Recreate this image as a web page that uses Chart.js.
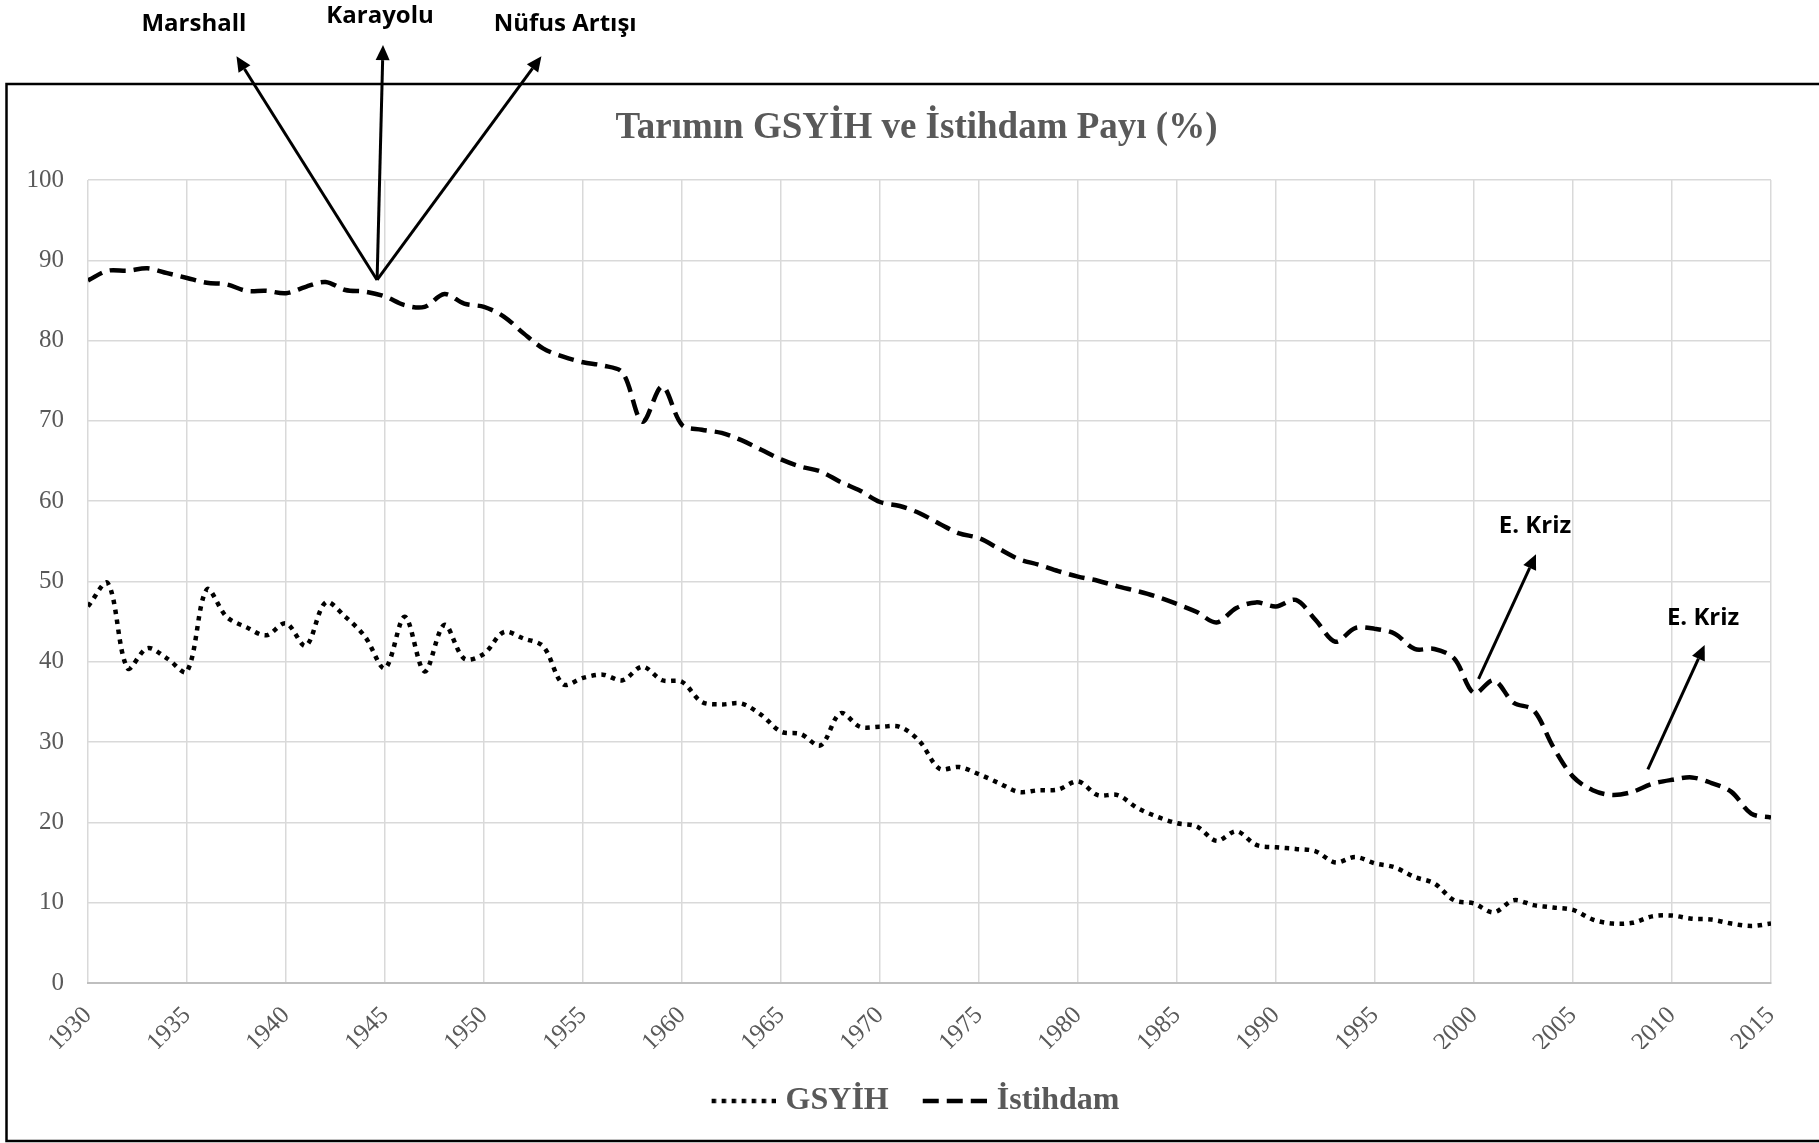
<!DOCTYPE html>
<html>
<head>
<meta charset="utf-8">
<script src="https://cdn.jsdelivr.net/npm/chart.js@4/dist/chart.umd.min.js"></script>
<style>
html,body{margin:0;padding:0;background:#fff;overflow:hidden}
#wrap{width:1819px;height:1143px}
</style>
</head>
<body>
<div id="wrap"><canvas id="c" width="1819" height="1143"></canvas></div>
<script>
// ---- data ----
const years = [1930,1931,1932,1933,1934,1935,1936,1937,1938,1939,
  1940,1941,1942,1943,1944,1945,1946,1947,1948,1949,
  1950,1951,1952,1953,1954,1955,1956,1957,1958,1959,
  1960,1961,1962,1963,1964,1965,1966,1967,1968,1969,
  1970,1971,1972,1973,1974,1975,1976,1977,1978,1979,
  1980,1981,1982,1983,1984,1985,1986,1987,1988,1989,
  1990,1991,1992,1993,1994,1995,1996,1997,1998,1999,
  2000,2001,2002,2003,2004,2005,2006,2007,2008,2009,
  2010,2011,2012,2013,2014,2015];

const gsyih = [46.9,49.8,39.2,41.7,40.4,38.8,49.0,45.6,44.3,43.3,
  44.8,42.0,47.4,45.6,43.1,39.2,45.6,38.8,44.6,40.4,
  41.0,43.7,42.9,41.9,37.2,38.0,38.4,37.7,39.4,37.7,
  37.5,35.0,34.7,34.8,33.4,31.3,31.0,29.6,33.6,31.9,
  31.9,31.9,30.1,26.7,26.9,26.0,24.9,23.8,24.0,24.1,
  25.1,23.4,23.4,21.8,20.7,19.9,19.5,17.7,18.9,17.2,
  16.9,16.7,16.4,15.0,15.7,14.9,14.4,13.2,12.4,10.3,
  9.9,8.8,10.3,9.7,9.4,9.1,7.9,7.4,7.5,8.3,
  8.4,8.0,7.9,7.4,7.1,7.4];

const istihdam = [87.5,88.7,88.7,89.0,88.4,87.8,87.2,87.0,86.2,86.2,
  85.9,86.7,87.3,86.3,86.1,85.5,84.4,84.2,85.8,84.6,
  84.2,83.0,80.9,79.0,78.0,77.3,76.9,76.0,69.9,74.3,
  69.5,68.9,68.5,67.6,66.4,65.2,64.3,63.7,62.4,61.3,
  59.9,59.4,58.5,57.2,56.0,55.4,54.1,52.8,52.1,51.3,
  50.6,50.1,49.4,48.8,48.1,47.2,46.2,44.9,46.7,47.4,
  46.9,47.7,45.2,42.5,44.2,44.1,43.5,41.6,41.6,40.4,
  36.1,37.7,34.9,34.0,29.4,25.7,24.0,23.4,23.8,24.8,
  25.3,25.6,24.9,23.8,21.1,20.6];

const seriesNames = ["GSYİH", "İstihdam"];
const chartTitle = "Tarımın GSYİH ve İstihdam Payı (%)";

// annotations (in data coordinates: year, percent)
const annText   = ["Marshall", "Karayolu", "Nüfus Artışı", "E. Kriz", "E. Kriz"];
const annTextX  = [1935.35, 1944.75, 1954.1, 2003.08, 2011.57];
const annTextY  = [119.4, 120.4, 119.4, 56.85, 45.45];
const arrowFromX = [1944.6, 1944.6, 1944.6, 2000.23, 2008.78];
const arrowFromY = [87.55, 87.55, 87.55, 37.86, 26.6];
const arrowToX   = [1937.5, 1944.9, 1952.9, 2003.13, 2011.65];
const arrowToY   = [115.4, 116.8, 115.4, 53.4, 42.1];

// ---- chart ----
const SERIF = '"Liberation Serif", "Times New Roman", serif';
const GRAY = '#595959';

// legend symbol: a short styled line, right-aligned in a small image
function legendSymbol(dash, width) {
  const c = document.createElement('canvas');
  c.width = 68; c.height = 10;
  const g = c.getContext('2d');
  g.strokeStyle = '#000';
  g.lineWidth = width;
  g.lineCap = 'butt';
  g.setLineDash(dash);
  g.beginPath();
  g.moveTo(4, 5);
  g.lineTo(68, 5);
  g.stroke();
  return c;
}

const decor = {
  id: 'decor',
  beforeDraw(chart) {
    const ctx = chart.ctx;
    ctx.save();
    ctx.fillStyle = '#fff';
    ctx.fillRect(0, 0, chart.width, chart.height);
    ctx.restore();
  },
  afterDraw(chart) {
    const ctx = chart.ctx;
    const xs = chart.scales.x, ys = chart.scales.y;
    ctx.save();
    // outer frame
    ctx.strokeStyle = '#000';
    ctx.lineWidth = 2.5;
    ctx.strokeRect(6.5, 84, chart.width + 20, 1057);
    // arrows
    ctx.lineWidth = 3;
    ctx.fillStyle = '#000';
    for (let i = 0; i < arrowFromX.length; i++) {
      const x0 = xs.getPixelForValue(arrowFromX[i]);
      const y0 = ys.getPixelForValue(arrowFromY[i]);
      const x1 = xs.getPixelForValue(arrowToX[i]);
      const y1 = ys.getPixelForValue(arrowToY[i]);
      const ang = Math.atan2(y1 - y0, x1 - x0);
      const hl = 15, hw = 7;
      const bx = x1 - hl * Math.cos(ang), by = y1 - hl * Math.sin(ang);
      ctx.beginPath();
      ctx.moveTo(x0, y0);
      ctx.lineTo(bx, by);
      ctx.stroke();
      ctx.beginPath();
      ctx.moveTo(x1, y1);
      ctx.lineTo(bx + hw * Math.sin(ang), by - hw * Math.cos(ang));
      ctx.lineTo(bx - hw * Math.sin(ang), by + hw * Math.cos(ang));
      ctx.closePath();
      ctx.fill();
    }
    // labels
    ctx.font = 'bold 24px "Open Sans", "DejaVu Sans", sans-serif';
    ctx.textAlign = 'center';
    ctx.textBaseline = 'middle';
    for (let i = 0; i < annText.length; i++) {
      ctx.fillText(annText[i], xs.getPixelForValue(annTextX[i]), ys.getPixelForValue(annTextY[i]));
    }
    ctx.restore();
  }
};

const toPts = arr => arr.map((v, i) => ({x: years[i], y: v}));

new Chart(document.getElementById('c'), {
  type: 'line',
  data: {
    datasets: [
      {
        label: seriesNames[0],
        data: toPts(gsyih),
        borderColor: '#000',
        backgroundColor: '#000',
        borderWidth: 4.5,
        borderDash: [4.5, 5.5],
        borderCapStyle: 'butt',
        tension: 0.33,
        pointRadius: 0,
        fill: false
      },
      {
        label: seriesNames[1],
        data: toPts(istihdam),
        borderColor: '#000',
        backgroundColor: '#000',
        borderWidth: 4.5,
        borderDash: [16, 8],
        borderCapStyle: 'butt',
        tension: 0.33,
        pointRadius: 0,
        fill: false
      }
    ]
  },
  options: {
    responsive: false,
    devicePixelRatio: 1,
    animation: false,
    layout: { padding: { top: 84, left: 14, right: 0, bottom: 16 } },
    plugins: {
      title: {
        display: true,
        text: chartTitle,
        color: GRAY,
        font: { family: SERIF, size: 37, weight: 'bold' },
        padding: { top: 21.8, bottom: 29.8 }
      },
      legend: {
        display: true,
        position: 'bottom',
        labels: {
          usePointStyle: true,
          pointStyleWidth: 56,
          color: GRAY,
          font: { family: SERIF, size: 32, weight: 'bold' },
          padding: 36,
          generateLabels(chart) {
            const items = Chart.defaults.plugins.legend.labels.generateLabels(chart);
            items.forEach(it => {
              const ds = chart.data.datasets[it.datasetIndex];
              it.pointStyle = legendSymbol(ds.borderDash, ds.borderWidth);
              it.lineWidth = 0;
            });
            return items;
          }
        }
      },
      tooltip: { enabled: false }
    },
    scales: {
      x: {
        type: 'linear',
        min: 1930,
        max: 2015,
        grid: { color: '#d9d9d9', lineWidth: 1.5, drawTicks: false },
        border: { color: '#bfbfbf', width: 2 },
        ticks: {
          stepSize: 5,
          autoSkip: false,
          maxRotation: 45,
          minRotation: 45,
          padding: 18,
          color: GRAY,
          font: { family: SERIF, size: 25 },
          callback: v => String(v)
        },
        afterFit(s) { s.height = 66; }
      },
      y: {
        min: 0,
        max: 100,
        grid: { color: '#d9d9d9', lineWidth: 1.5, drawTicks: false },
        border: { display: false },
        ticks: {
          stepSize: 10,
          padding: 24,
          color: GRAY,
          font: { family: SERIF, size: 25 }
        },
        afterFit(s) { s.width = 74; }
      },
      y2: {
        position: 'right',
        display: true,
        grid: { display: false, drawTicks: false },
        border: { display: false },
        ticks: { display: false },
        afterFit(s) { s.width = 48; }
      }
    }
  },
  plugins: [decor]
});
</script>
</body>
</html>
